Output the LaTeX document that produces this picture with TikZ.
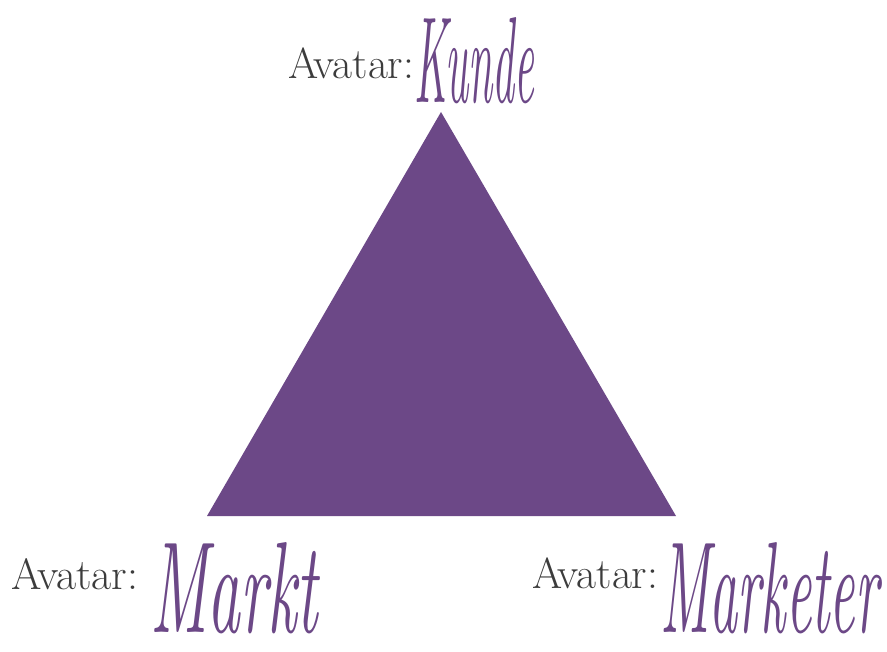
\documentclass[tikz,border=0pt]{standalone}
\usepackage{graphicx}
\definecolor{tripurple}{HTML}{6C4887}
\definecolor{avgray}{HTML}{3C3C3C}
\tikzset{
  avlabel/.style={inner sep=0pt, text=avgray, font=\fontsize{40}{40}\selectfont, anchor=base west},
  scriptword/.style={inner sep=0pt, text=tripurple, anchor=south west},
}
\begin{document}
\begin{tikzpicture}[x=1pt,y=-1pt]
\useasboundingbox (0,0) rectangle (887,652);
\fill[white] (0,0) rectangle (887,652);
\coordinate (apex) at (441,112);
\coordinate (bl) at (207,516);
\coordinate (br) at (676,516);
\fill[tripurple] (apex) -- (bl) -- (br) -- cycle;
\node[avlabel] (avtop) at (288,79) {\resizebox{126pt}{!}{Avatar:}};
\node[avlabel] (avleft) at (11,589) {\resizebox{127pt}{!}{Avatar:}};
\node[avlabel] (avright) at (532,588) {\resizebox{126pt}{!}{Avatar:}};
\node[scriptword] (kunde) at (414,104) {\resizebox{120pt}{85pt}{\itshape Kunde}};
\node[scriptword] (markt) at (150,634) {\resizebox{168pt}{90pt}{\itshape Markt}};
\node[scriptword] (marketer) at (660,634) {\resizebox{218pt}{90pt}{\itshape Marketer}};
\end{tikzpicture}
\end{document}
